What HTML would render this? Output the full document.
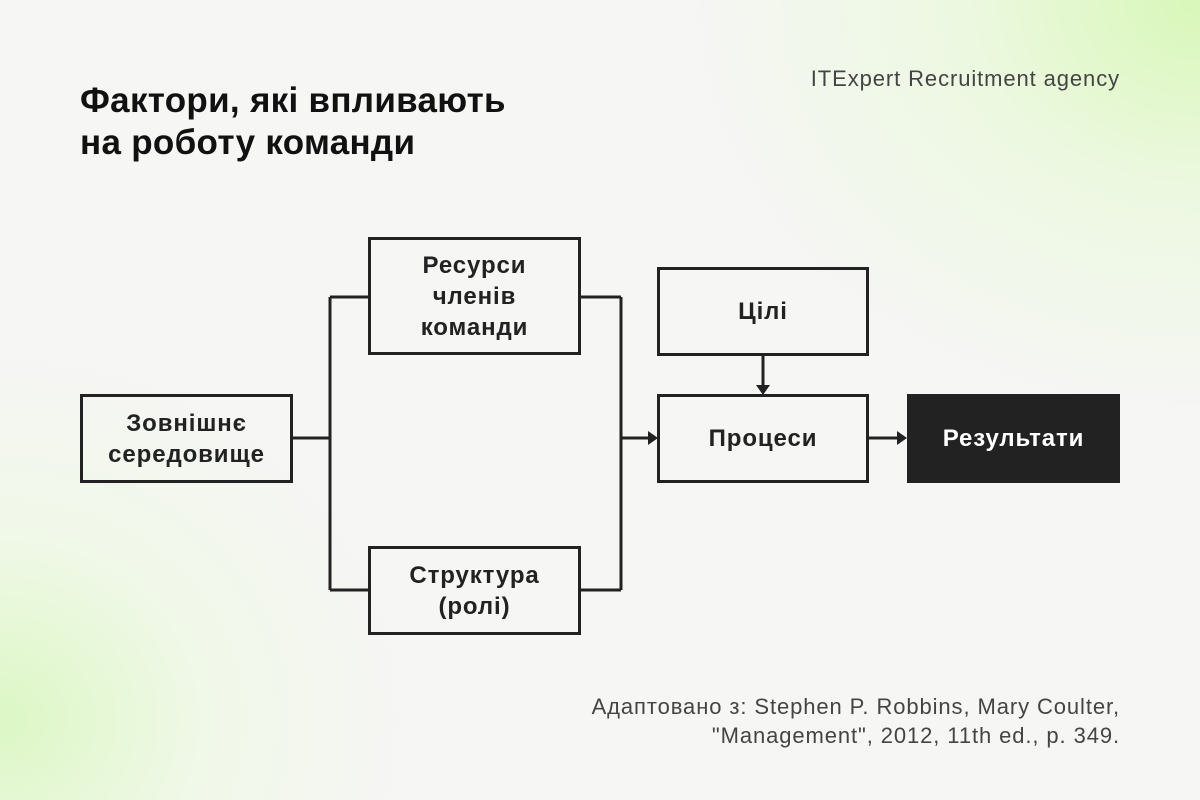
<!DOCTYPE html>
<html><head><meta charset="utf-8"><style>
body{margin:0;width:1200px;height:800px;overflow:hidden;font-family:"Liberation Sans","DejaVu Sans",sans-serif;
background:radial-gradient(ellipse 520px 420px at 1200px 0px,#d8f7b8 0%,rgba(230,250,210,0.6) 45%,rgba(246,246,246,0) 100%),
radial-gradient(ellipse 420px 380px at 0px 720px,#dcf7c4 0%,rgba(235,250,220,0.5) 50%,rgba(246,246,246,0) 100%),#f6f6f5;position:relative}
.t{position:absolute;left:80px;top:80px;font-size:35px;font-weight:bold;color:#111;line-height:42px;letter-spacing:0.3px}
.brand{position:absolute;right:80px;top:66px;font-size:22px;color:#444;letter-spacing:0.9px}
.foot{position:absolute;right:80px;top:692px;font-size:22px;color:#444;text-align:right;line-height:29px;letter-spacing:0.9px}
.b{position:absolute;box-sizing:border-box;border:3px solid #222;display:flex;align-items:center;justify-content:center;text-align:center;font-weight:bold;font-size:24px;color:#222;line-height:31px;letter-spacing:0.9px}
svg{position:absolute;left:0;top:0}
</style></head><body>
<div class="t">Фактори, які впливають<br>на роботу команди</div>
<div class="brand">ITExpert Recruitment agency</div>
<svg width="1200" height="800"><g stroke="#222" stroke-width="3" fill="none">
<path d="M292 438H330M330 297V590M330 297H369M330 590H369M580 297H621M580 590H621M621 297V590M621 438H650M763 355V387M868 438H899"/></g>
<g fill="#222"><path d="M658 438l-10-7v14z"/><path d="M763 395l-7-10h14z"/><path d="M907 438l-10-7v14z"/></g></svg>
<div class="b" style="left:80px;top:394px;width:213px;height:89px">Зовнішнє<br>середовище</div>
<div class="b" style="left:368px;top:237px;width:213px;height:118px">Ресурси<br>членів<br>команди</div>
<div class="b" style="left:368px;top:546px;width:213px;height:89px">Структура<br>(ролі)</div>
<div class="b" style="left:657px;top:267px;width:212px;height:89px">Цілі</div>
<div class="b" style="left:657px;top:394px;width:212px;height:89px">Процеси</div>
<div class="b" style="left:907px;top:394px;width:213px;height:89px;background:#222;color:#fff;border-color:#222">Результати</div>
<div class="foot">Адаптовано з: Stephen P. Robbins, Mary Coulter,<br>"Management", 2012, 11th ed., p. 349.</div>
</body></html>
